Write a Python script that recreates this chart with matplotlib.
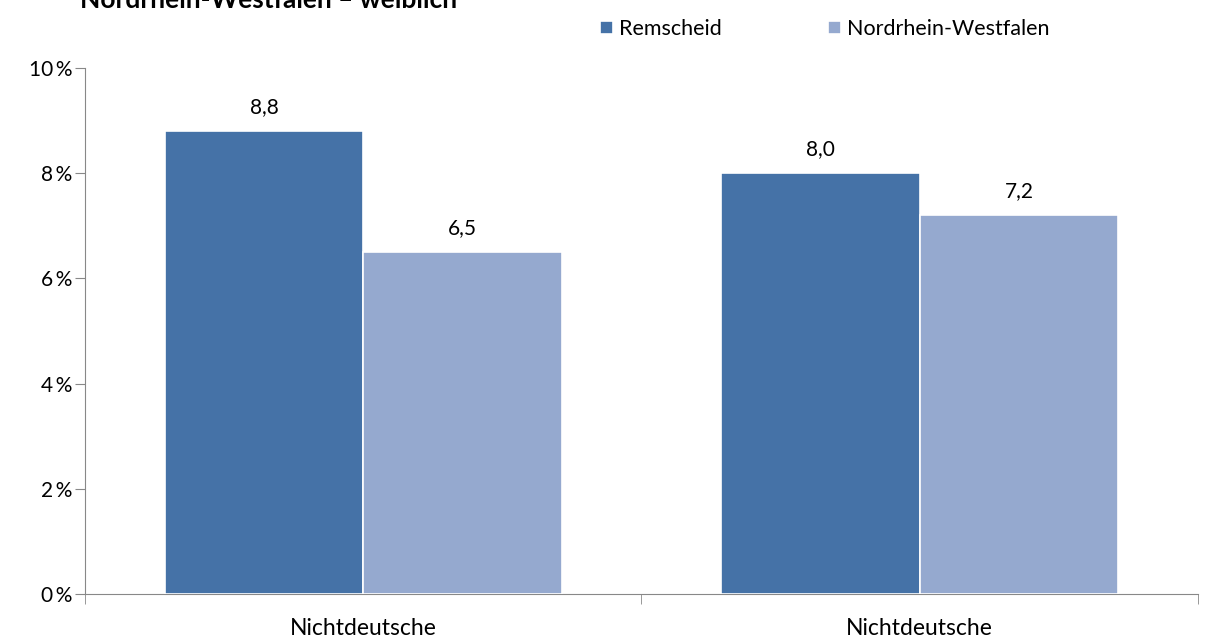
import numpy as np
import matplotlib.pyplot as plt

categories = ["Nichtdeutsche", "Nichtdeutsche"]
series_names = ["Remscheid", "Nordrhein-Westfalen"]
remscheid = [8.8, 8.0]
nrw = [6.5, 7.2]
yticks = [0, 2, 4, 6, 8, 10]


def main() -> None:
	plt.rcParams["font.family"] = ["Lato", "DejaVu Sans"]
	fig = plt.figure(figsize=(12.05, 6.39), dpi=100)
	ax = fig.add_axes([0.0705, 0.0704, 0.9237, 0.8232])

	x = np.arange(len(categories))
	w = 0.357
	colors = ["#4572A7", "#95A9CF"]
	for i, (vals, name) in enumerate(zip([remscheid, nrw], series_names)):
		pos = x - w / 2 + i * w
		bars = ax.bar(pos, vals, width=w, color=colors[i], edgecolor="white",
			linewidth=1.2, label=name, zorder=3)
		for b, v in zip(bars, vals):
			ax.text(b.get_x() + b.get_width() / 2, v + 0.27, f"{v:.1f}".replace(".", ","),
				ha="center", va="bottom", fontsize=15)

	ax.set_xlim(-0.5, len(categories) - 0.5)
	ax.set_ylim(0, 10)
	ax.set_yticks(yticks)
	ax.set_yticklabels([f"{t}\u2009%" for t in yticks], fontsize=15)
	ax.set_xticks(x)
	ax.set_xticklabels(categories, fontsize=16.5)
	ax.tick_params(axis="x", length=0, pad=17)
	ax.set_xticks([-0.5, 0.5, 1.5], minor=True)
	ax.tick_params(axis="x", which="minor", length=7, color="#888888")
	ax.tick_params(axis="y", length=7, color="#888888", pad=2)

	for s in ["top", "right"]:
		ax.spines[s].set_visible(False)
	for s in ["left", "bottom"]:
		ax.spines[s].set_color("#888888")

	ax.legend(loc="center left", bbox_to_anchor=(0.455, 1.074), ncol=2, frameon=False,
		fontsize=15.5, handlelength=0.6, handleheight=0.6, handletextpad=0.3,
		columnspacing=4.9, borderaxespad=0)

	fig.text(0.066, 1.0, "Nordrhein-Westfalen – weiblich", fontsize=19,
		fontweight="bold", ha="left", va="center")

	fig.savefig("out.png", dpi=100)
	plt.close(fig)


if __name__ == "__main__":
	main()
